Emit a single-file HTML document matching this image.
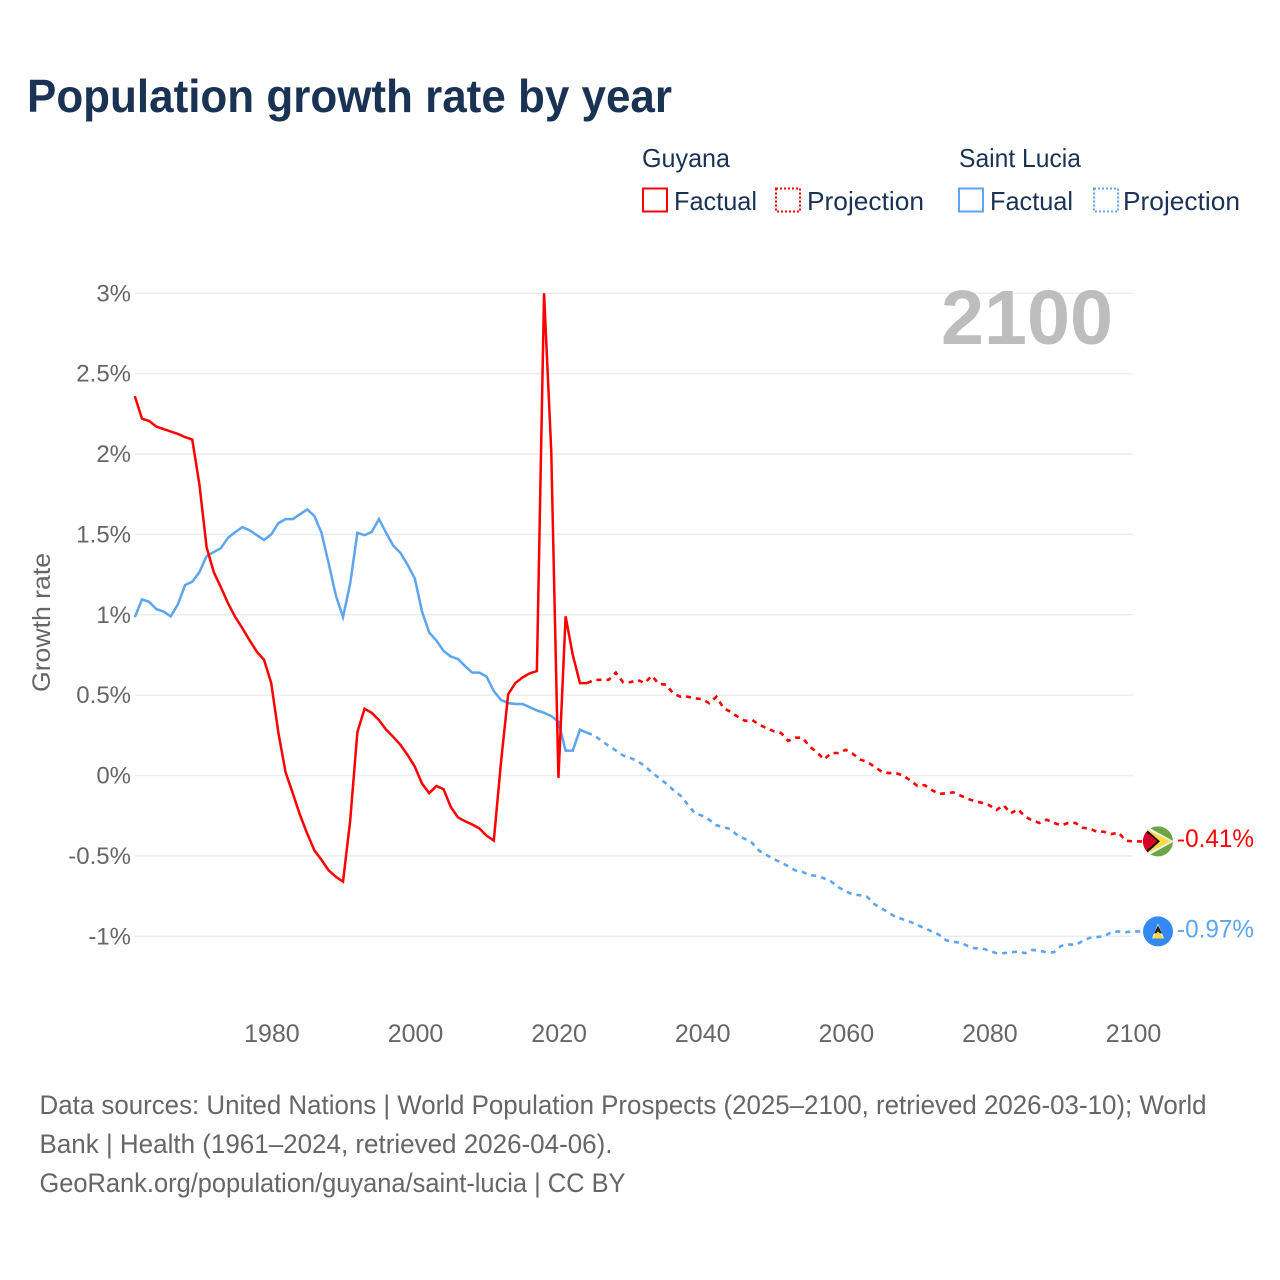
<!DOCTYPE html>
<html lang="en">
<head>
<meta charset="utf-8">
<title>Population growth rate by year</title>
<style>
html,body{margin:0;padding:0;background:#fff;}
svg{display:block;}
text{font-family:"Liberation Sans",sans-serif;}
</style>
</head>
<body>
<svg id="chart" xmlns="http://www.w3.org/2000/svg" width="1280" height="1280" viewBox="0 0 1280 1280">
  <rect x="0" y="0" width="1280" height="1280" fill="#ffffff"/>
  <text x="27" y="112" font-size="46" font-weight="700" fill="#1a3354" textLength="645" lengthAdjust="spacingAndGlyphs">Population growth rate by year</text>

  <g font-size="26" fill="#1a3354">
    <text x="642" y="167" textLength="88" lengthAdjust="spacingAndGlyphs">Guyana</text>
    <text x="959" y="167" textLength="122" lengthAdjust="spacingAndGlyphs">Saint Lucia</text>
    <rect x="643" y="188.5" width="24" height="23" fill="none" stroke="#ff0000" stroke-width="2"/>
    <text x="674" y="210" textLength="83" lengthAdjust="spacingAndGlyphs">Factual</text>
    <rect x="776" y="188.5" width="24" height="23" fill="none" stroke="#ff0000" stroke-width="2" stroke-dasharray="2 2"/>
    <text x="807" y="210" textLength="117" lengthAdjust="spacingAndGlyphs">Projection</text>
    <rect x="959" y="188.5" width="24" height="23" fill="none" stroke="#5da5ee" stroke-width="2"/>
    <text x="990" y="210" textLength="83" lengthAdjust="spacingAndGlyphs">Factual</text>
    <rect x="1094" y="188.5" width="24" height="23" fill="none" stroke="#5da5ee" stroke-width="2" stroke-dasharray="2 2"/>
    <text x="1123" y="210" textLength="117" lengthAdjust="spacingAndGlyphs">Projection</text>
  </g>

  <g id="grid"></g>
  <g id="yticks"></g>
  <g id="xticks"></g>
  <text transform="translate(50,622.5) rotate(-90)" text-anchor="middle" font-size="25" fill="#666666" textLength="139" lengthAdjust="spacingAndGlyphs">Growth rate</text>
  <text id="year-label" x="1113" y="344" text-anchor="end" font-size="77" font-weight="700" fill="#bdbdbd" textLength="172" lengthAdjust="spacingAndGlyphs">2100</text>

  <g id="series"></g>

  <defs>
    <clipPath id="flag-clip"><circle cx="0" cy="0" r="15"/></clipPath>
  </defs>
  <g id="flag-guyana">
    <g clip-path="url(#flag-clip)">
      <rect x="-16" y="-16" width="32" height="32" fill="#6da544"/>
      <polygon points="-15,-17 16,0 -15,17" fill="#f0f0f0"/>
      <polygon points="-15,-14 13,0 -15,14" fill="#ffda44"/>
      <polygon points="-15,-15 2,0 -15,15" fill="#111111"/>
      <polygon points="-15,-12 -0.5,0 -15,12" fill="#d80027"/>
    </g>
  </g>
  <g id="flag-lucia">
    <circle cx="0" cy="0" r="15" fill="#338af3"/>
    <polygon points="0,-8 6,7 -6,7" fill="#f0f0f0"/>
    <polygon points="0,-6 4,2 -4,2" fill="#222222"/>
    <polygon points="0,0 6,7 -6,7" fill="#ffda44"/>
  </g>
  <g id="end-labels"></g>

  <g font-size="26.5" fill="#666666">
    <text x="39.5" y="1114" textLength="1167" lengthAdjust="spacingAndGlyphs">Data sources: United Nations | World Population Prospects (2025–2100, retrieved 2026-03-10); World</text>
    <text x="39.5" y="1153" textLength="573" lengthAdjust="spacingAndGlyphs">Bank | Health (1961–2024, retrieved 2026-04-06).</text>
    <text x="39.5" y="1192" textLength="586" lengthAdjust="spacingAndGlyphs">GeoRank.org/population/guyana/saint-lucia | CC BY</text>
  </g>
</svg>

<script>
var factualStartYear = 1961;
var projectionStartYear = 2024;
var yTickValues = [3, 2.5, 2, 1.5, 1, 0.5, 0, -0.5, -1];
var yTickLabels = ["3%", "2.5%", "2%", "1.5%", "1%", "0.5%", "0%", "-0.5%", "-1%"];
var xTickYears = [1980, 2000, 2020, 2040, 2060, 2080, 2100];
var guyanaFactual = [
  2.36, 2.22, 2.205, 2.17, 2.155, 2.14, 2.125, 2.105, 2.09,
  1.81, 1.42, 1.265, 1.17, 1.07, 0.985, 0.915, 0.84, 0.77, 0.72,
  0.575, 0.265, 0.02, -0.11, -0.245, -0.36, -0.465, -0.525, -0.59, -0.63,
  -0.66, -0.28, 0.27, 0.415, 0.39, 0.345, 0.285, 0.24, 0.19, 0.127,
  0.055, -0.05, -0.11, -0.065, -0.085, -0.195, -0.26, -0.285, -0.305, -0.33,
  -0.375, -0.405, 0.08, 0.505, 0.575, 0.61, 0.635, 0.65, 3.0, 2.02,
  -0.015, 0.99, 0.75, 0.575, 0.575
];
var guyanaProjection = [
  0.575, 0.595, 0.595, 0.595, 0.64, 0.58,
  0.58, 0.595, 0.575, 0.62, 0.57, 0.565, 0.51, 0.49, 0.49, 0.48,
  0.475, 0.45, 0.49, 0.42, 0.395, 0.365, 0.34, 0.345, 0.315, 0.295,
  0.275, 0.265, 0.215, 0.235, 0.235, 0.18, 0.145, 0.10, 0.14, 0.14,
  0.16, 0.135, 0.10, 0.085, 0.055, 0.025, 0.015, 0.015, 0, -0.03,
  -0.065, -0.06, -0.09, -0.115, -0.11, -0.105, -0.125, -0.145, -0.16, -0.17,
  -0.185, -0.215, -0.185, -0.235, -0.21, -0.255, -0.28, -0.295, -0.275, -0.295,
  -0.31, -0.295, -0.295, -0.325, -0.33, -0.35, -0.35, -0.365, -0.355, -0.405,
  -0.41
];
var luciaFactual = [
  0.985, 1.095, 1.08, 1.035, 1.02, 0.99, 1.065, 1.185, 1.205,
  1.265, 1.365, 1.39, 1.415, 1.48, 1.515, 1.545, 1.525, 1.495, 1.465,
  1.50, 1.57, 1.595, 1.595, 1.625, 1.655, 1.615, 1.51, 1.32, 1.12,
  0.985, 1.195, 1.51, 1.495, 1.515, 1.595, 1.51, 1.43, 1.385, 1.31,
  1.225, 1.02, 0.89, 0.84, 0.775, 0.74, 0.725, 0.68, 0.64, 0.64,
  0.615, 0.525, 0.47, 0.45, 0.445, 0.445, 0.425, 0.405, 0.39, 0.37,
  0.335, 0.155, 0.155, 0.285, 0.265
];
var luciaProjection = [
  0.265, 0.25, 0.215, 0.185, 0.155, 0.125,
  0.11, 0.09, 0.06, 0.02, -0.015, -0.05, -0.09, -0.125, -0.18, -0.235,
  -0.25, -0.275, -0.31, -0.32, -0.335, -0.375, -0.395, -0.42, -0.47, -0.495,
  -0.52, -0.54, -0.565, -0.59, -0.60, -0.62, -0.625, -0.64, -0.66, -0.695,
  -0.72, -0.74, -0.745, -0.755, -0.80, -0.825, -0.855, -0.88, -0.895, -0.91,
  -0.93, -0.95, -0.97, -0.99, -1.025, -1.035, -1.04, -1.06, -1.075, -1.075,
  -1.09, -1.105, -1.105, -1.10, -1.095, -1.105, -1.085, -1.09, -1.10, -1.10,
  -1.06, -1.05, -1.055, -1.03, -1.01, -1.005, -1.0, -0.975, -0.97, -0.975,
  -0.97
];
var endLabelGuyana = "-0.41%";
var endLabelLucia = "-0.97%";

var SVG_NS = "http://www.w3.org/2000/svg";
var RED = "#ff0000";
var BLUE = "#5da5ee";

function xScale(year) { return 134.8 + 7.18 * (year - 1961); }
function yScale(value) { return 775.5 - 160.75 * value; }

function linePath(values, startYear) {
  var d = "";
  for (var i = 0; i < values.length; i++) {
    d += (i ? "L" : "M") + xScale(startYear + i).toFixed(2) + " " + yScale(values[i]).toFixed(2);
  }
  return d;
}

var gridGroup = document.getElementById("grid");
var yTickGroup = document.getElementById("yticks");
yTickValues.forEach(function (v, i) {
  var gridLine = document.createElementNS(SVG_NS, "line");
  
  
  gridLine.setAttribute("x1", 135);
  gridLine.setAttribute("x2", xScale(2100));
  gridLine.setAttribute("y1", yScale(v));
  gridLine.setAttribute("y2", yScale(v));
  gridLine.setAttribute("stroke", "#ececec");
  gridLine.setAttribute("stroke-width", "1.5");
  gridGroup.appendChild(gridLine);

  var tick = document.createElementNS(SVG_NS, "text");
  
  
  tick.setAttribute("x", 131);
  tick.setAttribute("y", yScale(v) + 8);
  tick.setAttribute("text-anchor", "end");
  tick.setAttribute("font-size", "24");
  tick.setAttribute("fill", "#666666");
  tick.textContent = yTickLabels[i];
  yTickGroup.appendChild(tick);
});

var xTickGroup = document.getElementById("xticks");
xTickYears.forEach(function (year) {
  var tick = document.createElementNS(SVG_NS, "text");
  
  
  tick.setAttribute("x", xScale(year) + 0.7);
  tick.setAttribute("y", 1042);
  tick.setAttribute("text-anchor", "middle");
  tick.setAttribute("font-size", "25");
  tick.setAttribute("fill", "#666666");
  tick.textContent = String(year);
  xTickGroup.appendChild(tick);
});

var seriesGroup = document.getElementById("series");

var luciaFactualLine = document.createElementNS(SVG_NS, "path");


luciaFactualLine.setAttribute("d", linePath(luciaFactual, factualStartYear));
luciaFactualLine.setAttribute("fill", "none");
luciaFactualLine.setAttribute("stroke", BLUE);
luciaFactualLine.setAttribute("stroke-width", "2.5");
seriesGroup.appendChild(luciaFactualLine);

var luciaProjectionLine = document.createElementNS(SVG_NS, "path");


luciaProjectionLine.setAttribute("d", linePath(luciaProjection, projectionStartYear) + "L1158 " + yScale(luciaProjection[luciaProjection.length - 1]).toFixed(2));
luciaProjectionLine.setAttribute("fill", "none");
luciaProjectionLine.setAttribute("stroke", BLUE);
luciaProjectionLine.setAttribute("stroke-width", "2.6");
luciaProjectionLine.setAttribute("stroke-dasharray", "5 5");
seriesGroup.appendChild(luciaProjectionLine);

var guyanaFactualLine = document.createElementNS(SVG_NS, "path");


guyanaFactualLine.setAttribute("d", linePath(guyanaFactual, factualStartYear));
guyanaFactualLine.setAttribute("fill", "none");
guyanaFactualLine.setAttribute("stroke", RED);
guyanaFactualLine.setAttribute("stroke-width", "2.5");
seriesGroup.appendChild(guyanaFactualLine);

var guyanaProjectionLine = document.createElementNS(SVG_NS, "path");


guyanaProjectionLine.setAttribute("d", linePath(guyanaProjection, projectionStartYear) + "L1158 " + yScale(guyanaProjection[guyanaProjection.length - 1]).toFixed(2));
guyanaProjectionLine.setAttribute("fill", "none");
guyanaProjectionLine.setAttribute("stroke", RED);
guyanaProjectionLine.setAttribute("stroke-width", "2.6");
guyanaProjectionLine.setAttribute("stroke-dasharray", "5 5");
seriesGroup.appendChild(guyanaProjectionLine);

var guyanaEndY = yScale(guyanaProjection[guyanaProjection.length - 1]);
var luciaEndY = yScale(luciaProjection[luciaProjection.length - 1]);
document.getElementById("flag-guyana").setAttribute("transform", "translate(1158," + guyanaEndY.toFixed(2) + ")");
document.getElementById("flag-lucia").setAttribute("transform", "translate(1158," + luciaEndY.toFixed(2) + ")");

var endGroup = document.getElementById("end-labels");

var guyanaEnd = document.createElementNS(SVG_NS, "text");


guyanaEnd.setAttribute("x", 1177);
guyanaEnd.setAttribute("y", guyanaEndY + 5.5);
guyanaEnd.setAttribute("font-size", "25");
guyanaEnd.setAttribute("fill", RED);
guyanaEnd.setAttribute("textLength", "77");
guyanaEnd.setAttribute("lengthAdjust", "spacingAndGlyphs");
guyanaEnd.textContent = endLabelGuyana;
endGroup.appendChild(guyanaEnd);

var luciaEnd = document.createElementNS(SVG_NS, "text");


luciaEnd.setAttribute("x", 1177);
luciaEnd.setAttribute("y", luciaEndY + 6);
luciaEnd.setAttribute("font-size", "25");
luciaEnd.setAttribute("fill", BLUE);
luciaEnd.setAttribute("textLength", "77");
luciaEnd.setAttribute("lengthAdjust", "spacingAndGlyphs");
luciaEnd.textContent = endLabelLucia;
endGroup.appendChild(luciaEnd);
</script>
</body>
</html>
